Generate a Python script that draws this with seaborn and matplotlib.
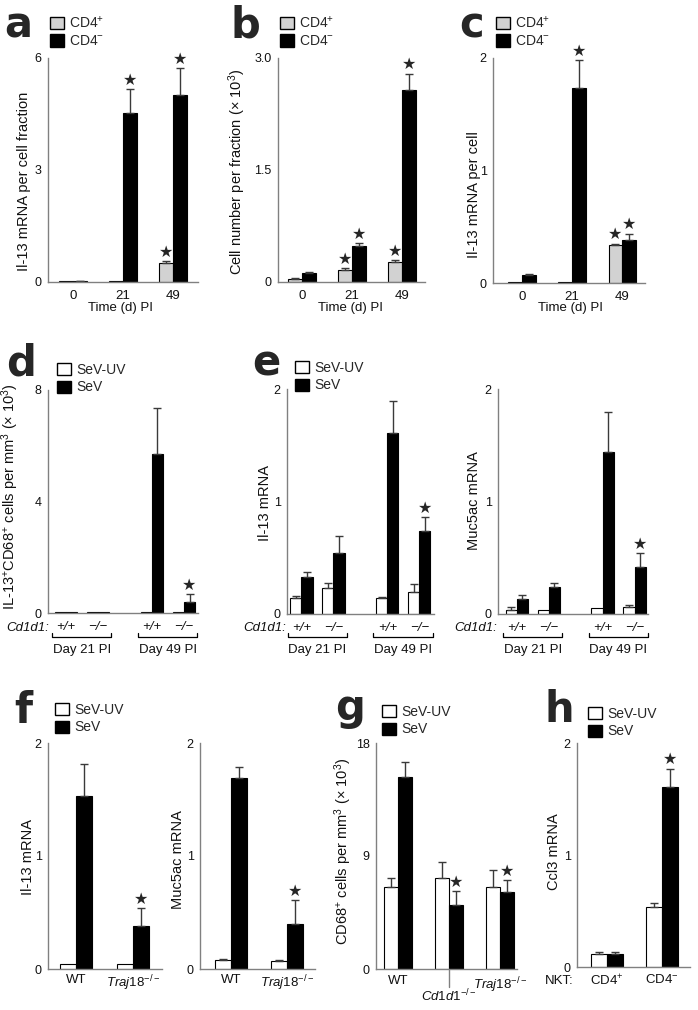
import numpy as np
import pandas as pd
import matplotlib
matplotlib.use("Agg")
import matplotlib.pyplot as plt
from matplotlib.patches import Patch
from matplotlib.transforms import Affine2D, blended_transform_factory
import seaborn as sns

# ---------------- data ----------------
time_cats = ["0", "21", "49"]
cd4_groups = ["CD4+", "CD4−"]

a_pos = [0.02, 0.02, 0.50]
a_pos_err = [0.0, 0.0, 0.05]
a_neg = [0.03, 4.52, 5.02]
a_neg_err = [0.01, 0.65, 0.70]
a_pos_star = [False, False, True]
a_neg_star = [False, True, True]

b_pos = [0.04, 0.16, 0.27]
b_pos_err = [0.01, 0.03, 0.02]
b_neg = [0.12, 0.48, 2.57]
b_neg_err = [0.01, 0.04, 0.22]
b_pos_star = [False, True, True]
b_neg_star = [False, True, True]

c_pos = [0.01, 0.01, 0.34]
c_pos_err = [0.0, 0.0, 0.01]
c_neg = [0.07, 1.73, 0.38]
c_neg_err = [0.01, 0.25, 0.06]
c_pos_star = [False, False, True]
c_neg_star = [False, True, True]

geno_cats = ["21 +/+", "21 −/−", "49 +/+", "49 −/−"]
geno_labels = ["+/+", "−/−", "+/+", "−/−"]
day_labels = ["Day 21 PI", "Day 49 PI"]
sev_groups = ["SeV-UV", "SeV"]

d_uv = [0.03, 0.03, 0.03, 0.05]
d_uv_err = [0.0, 0.0, 0.0, 0.0]
d_sev = [0.03, 0.03, 5.70, 0.40]
d_sev_err = [0.0, 0.0, 1.65, 0.28]
d_uv_star = [False, False, False, False]
d_sev_star = [False, False, False, True]

e_il13_uv = [0.14, 0.23, 0.14, 0.20]
e_il13_uv_err = [0.02, 0.05, 0.01, 0.07]
e_il13_sev = [0.33, 0.54, 1.61, 0.74]
e_il13_sev_err = [0.04, 0.15, 0.28, 0.12]
e_il13_sev_star = [False, False, False, True]

e_muc_uv = [0.04, 0.04, 0.05, 0.06]
e_muc_uv_err = [0.02, 0.0, 0.0, 0.02]
e_muc_sev = [0.13, 0.24, 1.44, 0.42]
e_muc_sev_err = [0.04, 0.04, 0.36, 0.12]
e_muc_sev_star = [False, False, False, True]

f_cats = ["WT", "Traj18"]
f_il13_uv = [0.04, 0.04]
f_il13_uv_err = [0.0, 0.0]
f_il13_sev = [1.53, 0.38]
f_il13_sev_err = [0.28, 0.16]
f_muc_uv = [0.08, 0.07]
f_muc_uv_err = [0.01, 0.01]
f_muc_sev = [1.69, 0.40]
f_muc_sev_err = [0.10, 0.21]
f_sev_star = [False, True]

g_cats = ["WT", "Cd1d1", "Traj18"]
g_uv = [6.5, 7.25, 6.5]
g_uv_err = [0.75, 1.3, 1.4]
g_sev = [15.3, 5.1, 6.15]
g_sev_err = [1.2, 1.1, 0.95]
g_sev_star = [False, True, True]

h_cats = ["CD4+", "CD4−"]
h_uv = [0.12, 0.54]
h_uv_err = [0.01, 0.03]
h_sev = [0.12, 1.61]
h_sev_err = [0.01, 0.16]
h_sev_star = [False, True]

# ---------------- layout / style ----------------
geno_pos = [0.0, 1.0, 2.68, 3.68]
no_star4 = [False] * 4
no_star3 = [False] * 3
no_star2 = [False] * 2

sns.set_style("white")
plt.rcParams["font.family"] = ["Liberation Sans", "DejaVu Sans"]
plt.rcParams["mathtext.fontset"] = "custom"
plt.rcParams["mathtext.rm"] = "Liberation Sans"
plt.rcParams["mathtext.it"] = "Liberation Sans:italic"
plt.rcParams["mathtext.bf"] = "Liberation Sans:bold"
plt.rcParams["mathtext.default"] = "regular"

W, H = 698, 1010
fig = plt.figure(figsize=(W / 100, H / 100), dpi=100)
fig.patch.set_facecolor("white")
px_tr = Affine2D().scale(1 / W, -1 / H).translate(0, 1) + fig.transFigure

SPINE = "#808080"
ERR = "#3a3a3a"
GRAY = "#d2d2d2"
pal_cd4 = {"CD4+": GRAY, "CD4−": "black"}
pal_sev = {"SeV-UV": "white", "SeV": "black"}


def add_ax(l, t, r, b):
    return fig.add_axes([l / W, 1 - b / H, (r - l) / W, (b - t) / H])


def bar_panel(ax, cats, hues, vals, errs, stars, palette, width, positions=None):
    rows = []
    for hi, (h, v, e, s) in enumerate(zip(hues, vals, errs, stars)):
        for gi, c in enumerate(cats):
            rows.append(dict(x=(c if positions is None else positions[gi]), hue=h,
                             value=v[gi], err=e[gi], star=s[gi], gi=gi, hi=hi))
    df = pd.DataFrame(rows)
    sns.barplot(data=df, x="x", y="value", hue="hue", hue_order=hues,
                order=(cats if positions is None else None),
                native_scale=(positions is not None),
                palette=palette, saturation=1, edgecolor="black", linewidth=0.8,
                width=width, errorbar=None, legend=False, ax=ax)
    patches = sorted(ax.patches, key=lambda p: p.get_x())
    df = df.sort_values(["gi", "hi"])
    for p, (_, r) in zip(patches, df.iterrows()):
        xc = p.get_x() + p.get_width() / 2
        top = p.get_height()
        if r.err > 0:
            ax.errorbar([xc], [top], yerr=[[0], [r.err]], fmt="none", ecolor=ERR,
                        elinewidth=1.0, capsize=3, capthick=1.0)
        if r.star:
            ax.annotate("★", (xc, top + r.err), xytext=(0, 1.0), textcoords="offset points",
                        ha="center", va="bottom", fontsize=11.5, family="DejaVu Sans",
                        annotation_clip=False)
    ax.set_xlabel("")


def style_ax(ax, ylim, yticks, yticklabels, xlim, ylabel, ylab_xy, xpad):
    ax.set_ylim(*ylim)
    ax.set_xlim(*xlim)
    ax.set_yticks(yticks)
    ax.set_yticklabels(yticklabels)
    for s in ("top", "right"):
        ax.spines[s].set_visible(False)
    for s in ("left", "bottom"):
        ax.spines[s].set_color(SPINE)
        ax.spines[s].set_linewidth(1.0)
    ax.tick_params(axis="y", direction="out", length=3, width=1.0, color=SPINE,
                   labelsize=9, pad=1.5, labelcolor="#111111")
    ax.tick_params(axis="x", length=0, labelsize=9.5, labelcolor="#111111", pad=xpad)
    ax.set_ylabel(ylabel, fontsize=10.5, color="#111111")
    ax.yaxis.set_label_coords(ylab_xy[0], ylab_xy[1], transform=px_tr)


def legend(ax, labels, colors, x, y):
    handles = [Patch(facecolor=c, edgecolor="black", linewidth=1.0) for c in colors]
    ax.legend(handles, labels, loc="upper left", bbox_to_anchor=(x, y),
              bbox_transform=px_tr, frameon=False, fontsize=10, handlelength=1.0,
              handleheight=1.0, handletextpad=0.4, labelspacing=0.25,
              borderpad=0, borderaxespad=0)


def letter(s, x, y):
    fig.text(x, y, s, transform=px_tr, fontsize=30, fontweight="bold",
             family="DejaVu Sans", ha="left", va="baseline")


cd4_leg = [r"CD4$^{+}$", r"CD4$^{-}$"]
sev_leg = ["SeV-UV", "SeV"]

# ---------------- row 1 ----------------
top_specs = [
    ("a", (48, 58, 198, 282), (a_pos, a_neg), (a_pos_err, a_neg_err), (a_pos_star, a_neg_star),
     (0, 6), [0, 1.5, 3, 4.5, 6], ["0", "", "3", "", "6"], (-0.5, 2.5),
     "Il-13 mRNA per cell fraction", (31, 181), (4, 37), (50, 15), 121),
    ("b", (278, 58, 425, 282), (b_pos, b_neg), (b_pos_err, b_neg_err), (b_pos_star, b_neg_star),
     (0, 3), [0, 0.75, 1.5, 2.25, 3], ["0", "", "1.5", "", "3.0"], (-0.48, 2.46),
     r"Cell number per fraction (× 10$^{3}$)", (248, 172), (231, 37), (280, 15), 350),
    ("c", (493, 58, 645, 283), (c_pos, c_neg), (c_pos_err, c_neg_err), (c_pos_star, c_neg_star),
     (0, 2), [0, 0.5, 1, 1.5, 2], ["0", "", "1", "", "2"], (-0.57, 2.45),
     "Il-13 mRNA per cell", (481, 195), (459, 37), (496, 15), 570),
]
for (lt, box, vals, errs, stars, ylim, yt, ytl, xlim, ylab, ylxy, lxy, legxy, xlx) in top_specs:
    ax = add_ax(*box)
    bar_panel(ax, time_cats, cd4_groups, vals, errs, stars, pal_cd4, 0.55)
    style_ax(ax, ylim, yt, ytl, xlim, ylab, ylxy, 5.5)
    ax.set_xticks([0, 1, 2])
    ax.set_xticklabels(time_cats)
    ax.set_xlabel("Time (d) PI", fontsize=9.5, color="#111111")
    ax.xaxis.set_label_coords(xlx, 302, transform=px_tr)
    legend(ax, cd4_leg, [GRAY, "black"], *legxy)
    letter(lt, *lxy)

# ---------------- row 2 ----------------
mid_specs = [
    ("d", (48, 390, 198, 613), (d_uv, d_sev), (d_uv_err, d_sev_err), (d_uv_star, d_sev_star),
     (0, 8), [0, 2, 4, 6, 8], ["0", "", "4", "", "8"], (-0.56, 4.12),
     r"IL-13$^{+}$CD68$^{+}$ cells per mm$^{3}$ (× 10$^{3}$)", (21, 497), (6, 375), (57, 363), 6),
    ("e", (287, 389, 434, 614), (e_il13_uv, e_il13_sev), (e_il13_uv_err, e_il13_sev_err),
     (no_star4, e_il13_sev_star),
     (0, 2), [0, 0.5, 1, 1.5, 2], ["0", "", "1", "", "2"], (-0.45, 4.14),
     "Il-13 mRNA", (272, 503), (252, 376), (295, 361), 243),
    (None, (498, 389, 648, 614), (e_muc_uv, e_muc_sev), (e_muc_uv_err, e_muc_sev_err),
     (no_star4, e_muc_sev_star),
     (0, 2), [0, 0.5, 1, 1.5, 2], ["0", "", "1", "", "2"], (-0.59, 4.1),
     "Muc5ac mRNA", (481, 501), None, None, 454),
]
for (lt, box, vals, errs, stars, ylim, yt, ytl, xlim, ylab, ylxy, lxy, legxy, cdx) in mid_specs:
    ax = add_ax(*box)
    bar_panel(ax, geno_cats, sev_groups, vals, errs, stars, pal_sev, 0.7, positions=geno_pos)
    style_ax(ax, ylim, yt, ytl, xlim, ylab, ylxy, 5.5)
    ax.set_xticks(geno_pos)
    ax.set_xticklabels(geno_labels, style="italic")
    tr = blended_transform_factory(ax.transData, px_tr)
    for k, dl in enumerate(day_labels):
        x0 = geno_pos[2 * k] - 0.43
        x1 = geno_pos[2 * k + 1] + 0.42
        ax.plot([x0, x0, x1, x1], [633, 637, 637, 633], transform=tr, color="black",
                lw=0.9, clip_on=False)
        ax.text((x0 + x1) / 2, 650, dl, transform=tr, ha="center", va="center",
                fontsize=9.5, color="#111111")
    fig.text(cdx, 628, "Cd1d1:", transform=px_tr, style="italic", fontsize=9.5,
             ha="left", va="center", color="#111111")
    if legxy is not None:
        legend(ax, sev_leg, ["white", "black"], *legxy)
    if lt is not None:
        letter(lt, *lxy)

# ---------------- row 3 ----------------
traj_lab = r"$\mathit{Traj18}^{\mathit{-/-}}$"
f_specs = [
    ("f", (48, 743, 162, 969), (f_il13_uv, f_il13_sev), (f_il13_uv_err, f_il13_sev_err),
     (-0.49, 1.51), "Il-13 mRNA", (35, 857)),
    (None, (200, 743, 315, 969), (f_muc_uv, f_muc_sev), (f_muc_uv_err, f_muc_sev_err),
     (-0.55, 1.5), "Muc5ac mRNA", (185, 860)),
]
for k, (lt, box, vals, errs, xlim, ylab, ylxy) in enumerate(f_specs):
    ax = add_ax(*box)
    bar_panel(ax, f_cats, sev_groups, vals, errs, (no_star2, f_sev_star), pal_sev, 0.56)
    style_ax(ax, (0, 2), [0, 0.5, 1, 1.5, 2], ["0", "", "1", "", "2"], xlim, ylab, ylxy, 3.5)
    ax.set_xticks([0, 1])
    ax.set_xticklabels(["WT", traj_lab])
    if k == 0:
        legend(ax, sev_leg, ["white", "black"], 55, 703)
        letter("f", 14, 723)

# g
ax = add_ax(376, 743, 517, 969)
bar_panel(ax, g_cats, sev_groups, (g_uv, g_sev), (g_uv_err, g_sev_err), (no_star3, g_sev_star),
          pal_sev, 0.55)
style_ax(ax, (0, 18), [0, 4.5, 9, 13.5, 18], ["0", "", "9", "", "18"], (-0.43, 2.33),
         r"CD68$^{+}$ cells per mm$^{3}$ (× 10$^{3}$)", (354, 851), 4.5)
ax.set_xticks([0, 1, 2])
ax.set_xticklabels(["WT", "", traj_lab])
tr = blended_transform_factory(ax.transData, px_tr)
ax.plot([1, 1], [969, 987], transform=tr, color=SPINE, lw=1.0, clip_on=False)
ax.text(1, 996, r"$\mathit{Cd1d1}^{\mathit{-/-}}$", transform=tr, ha="center", va="center",
        fontsize=9.5, color="#111111")
legend(ax, sev_leg, ["white", "black"], 382, 705)
letter("g", 335, 720)

# h
ax = add_ax(577, 743, 690, 967)
bar_panel(ax, h_cats, sev_groups, (h_uv, h_sev), (h_uv_err, h_sev_err), (no_star2, h_sev_star),
          pal_sev, 0.58)
style_ax(ax, (0, 2), [0, 0.5, 1, 1.5, 2], ["0", "", "1", "", "2"], (-0.55, 1.51),
         "Ccl3 mRNA", (561, 852), 4.5)
ax.set_xticks([0, 1])
ax.set_xticklabels([r"CD4$^{+}$", r"CD4$^{-}$"])
fig.text(545, 981, "NKT:", transform=px_tr, fontsize=9.5, ha="left", va="center",
         color="#111111")
legend(ax, sev_leg, ["white", "black"], 588, 707)
letter("h", 545, 722)

fig.savefig("out.png", dpi=100, facecolor="white")
